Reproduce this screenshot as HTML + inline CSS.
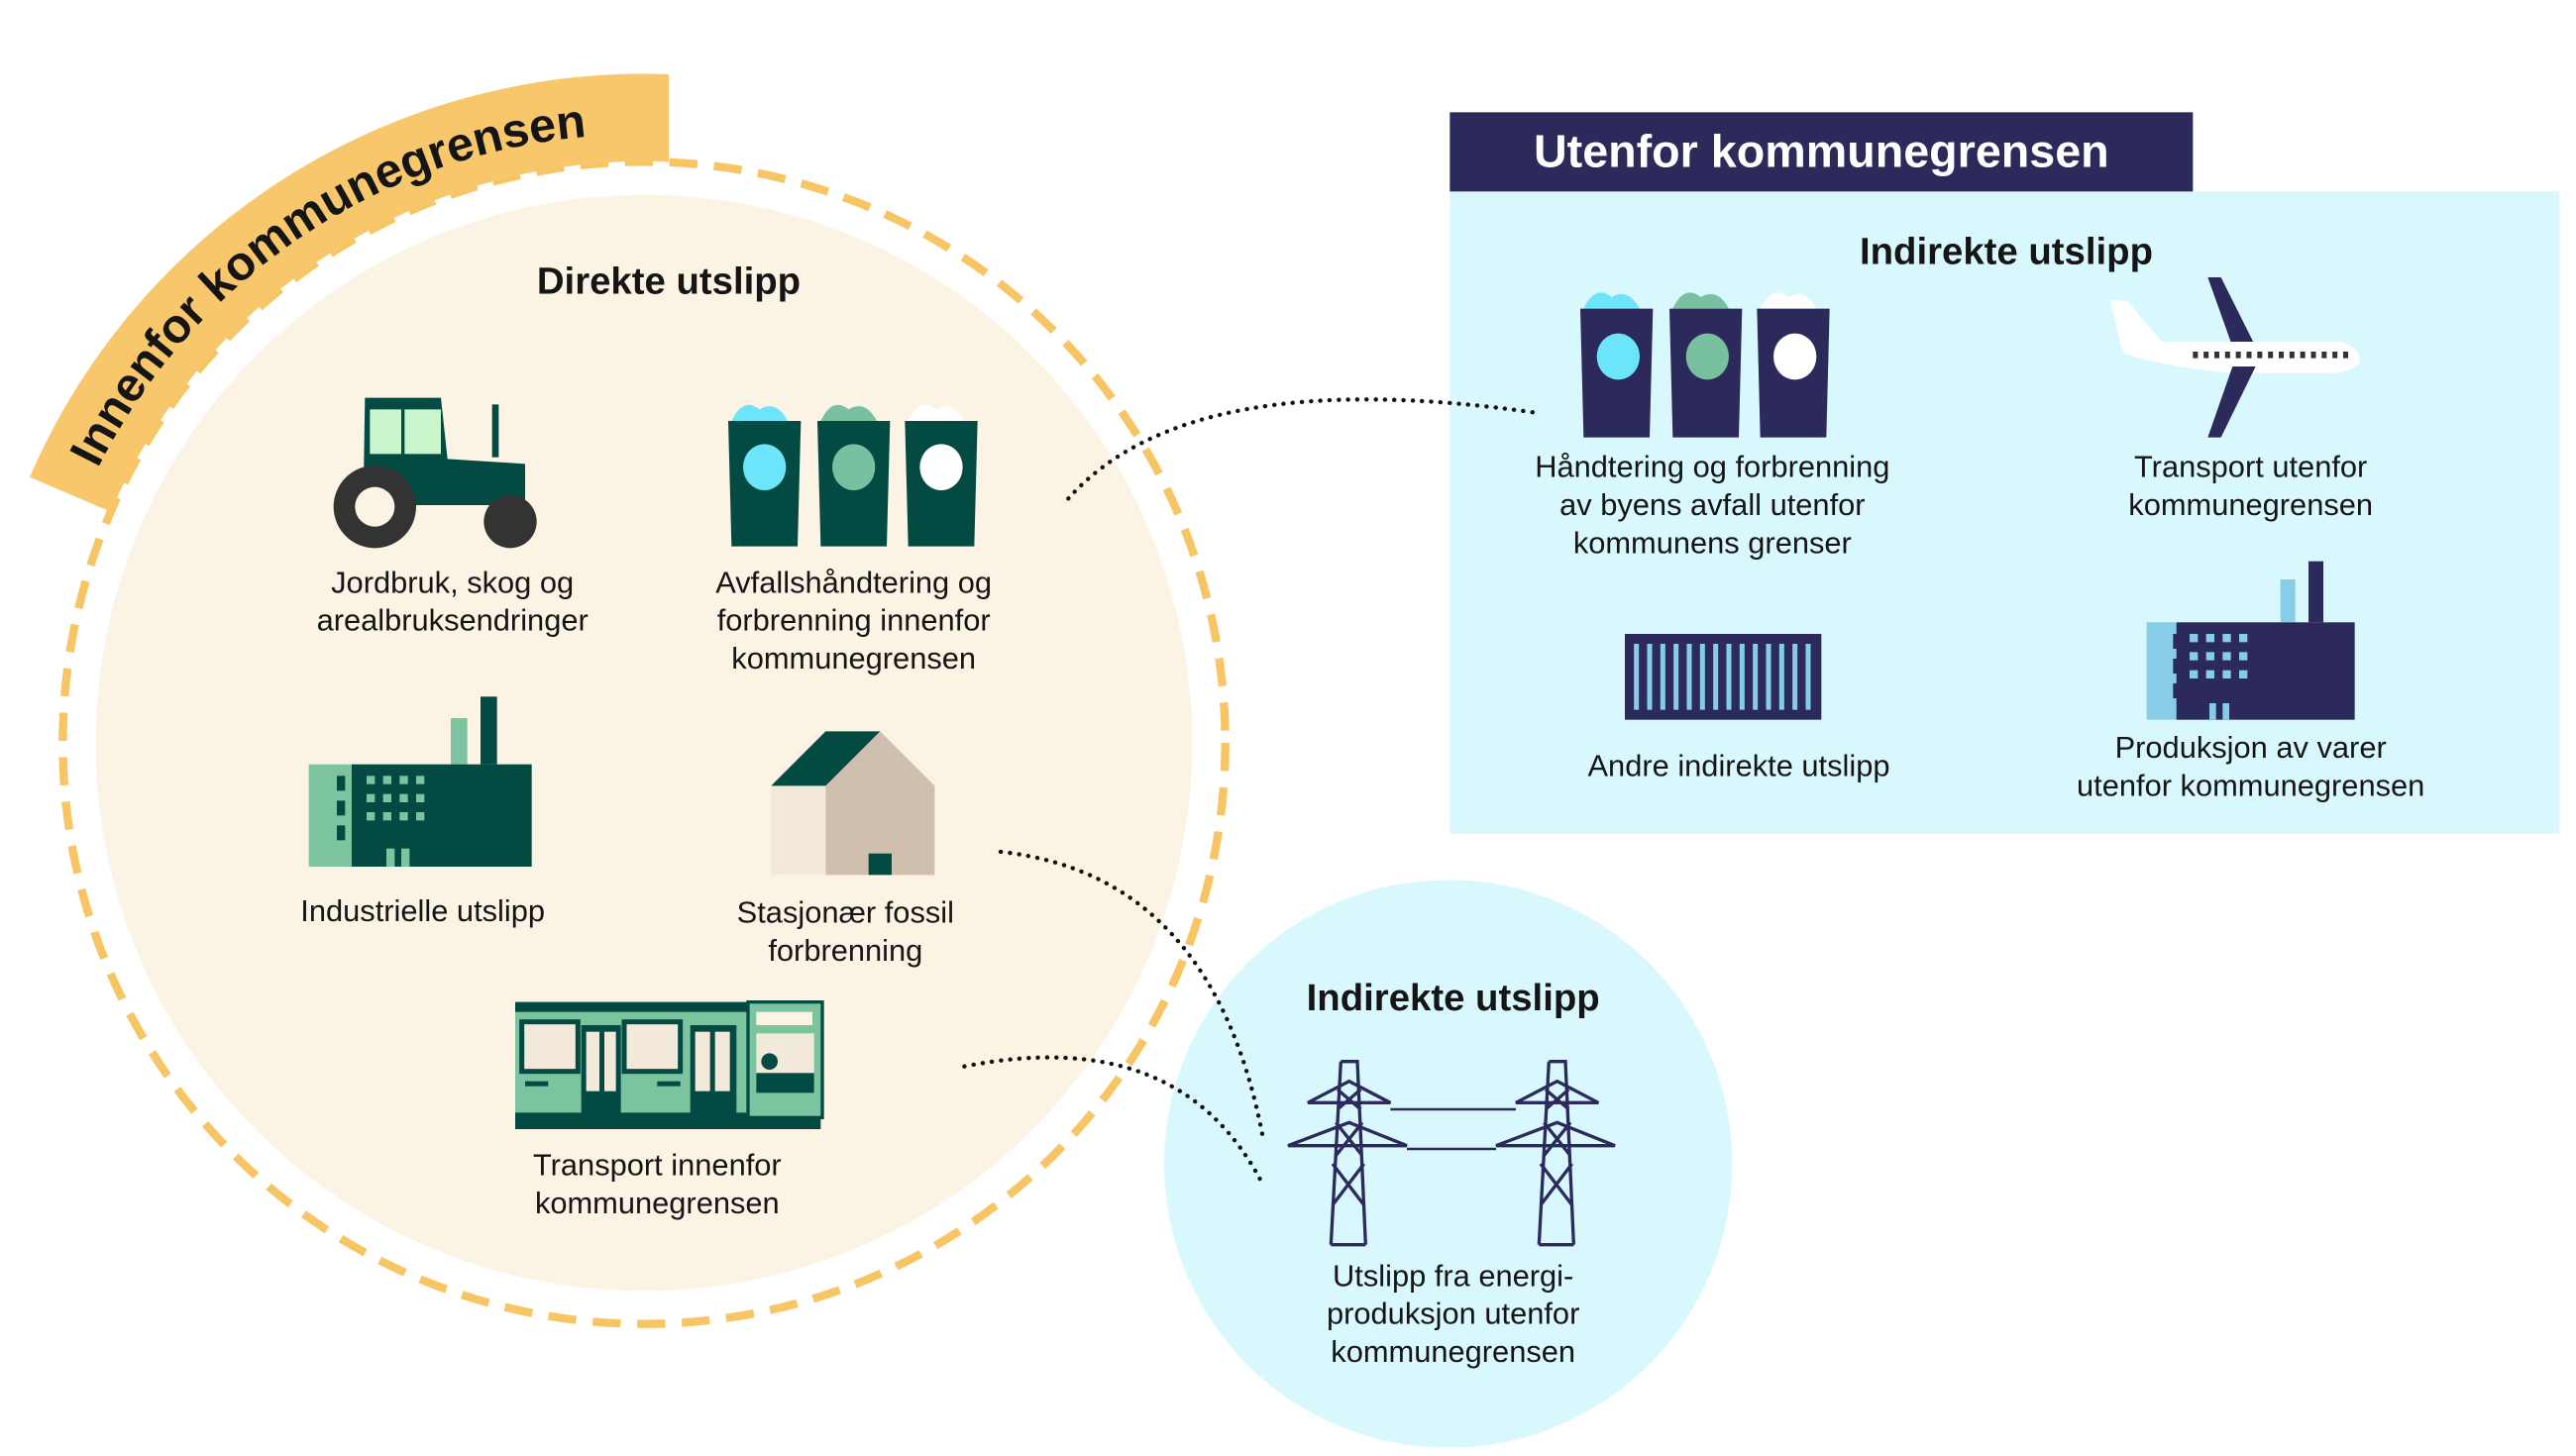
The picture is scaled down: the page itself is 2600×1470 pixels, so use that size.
<!DOCTYPE html>
<html><head><meta charset="utf-8"><style>
html,body{margin:0;padding:0;background:#fff;}
svg{display:block;}
text{font-family:"Liberation Sans",sans-serif;fill:#151515;}
.b{font-weight:bold;}
.l{font-size:18.5px;text-anchor:middle;}
.h{font-size:23px;font-weight:bold;text-anchor:middle;}
</style></head><body>
<svg width="2600" height="1470" viewBox="0 0 1560 882" xmlns="http://www.w3.org/2000/svg">
<rect width="1560" height="882" fill="#fff"/>
<circle cx="390" cy="450" r="352" fill="none" stroke="#f7c564" stroke-width="5" stroke-dasharray="17 10"/>
<circle cx="390" cy="450" r="332" fill="#fbf3e4"/>
<path d="M18,289 A405,405 0 0 1 405,45 L405,98 A352,352 0 0 0 67,310 Z" fill="#f8c76b"/>
<path id="arc" d="M40,330 A366,366 0 0 1 430,84" fill="none"/>
<text class="b" font-size="29"><textPath href="#arc" startOffset="50">Innenfor kommunegrensen</textPath></text>

<text x="405" y="178" class="h">Direkte utslipp</text>

<g fill="#034a42">
<polygon points="221,241 267,241 271,278 318,281 318,306 220,306"/>
<rect x="298" y="245" width="4" height="32"/>
</g>
<rect x="224" y="248" width="19" height="27" fill="#c8f5cb"/>
<rect x="245" y="248" width="22" height="27" fill="#c8f5cb"/>
<circle cx="227" cy="307" r="25" fill="#333"/>
<circle cx="227" cy="307" r="12" fill="#fbf3e4"/>
<circle cx="309" cy="316" r="16" fill="#333"/>
<text class="l" x="274" y="359">Jordbruk, skog og</text>
<text class="l" x="274" y="382">arealbruksendringer</text>

<g>
<path d="M443,255 Q450,240 460,248 Q470,242 477,255Z" fill="#6ce5fb"/>
<path d="M497,255 Q504,240 514,248 Q524,242 531,255Z" fill="#79c0a0"/>
<path d="M550,255 Q557,240 567,248 Q577,242 584,255Z" fill="#fff"/>
<polygon points="441,255 485,255 483,331 443,331" fill="#034a42"/>
<polygon points="495,255 539,255 537,331 497,331" fill="#034a42"/>
<polygon points="548,255 592,255 590,331 550,331" fill="#034a42"/>
<ellipse cx="463" cy="283" rx="13" ry="14" fill="#6ce5fb"/>
<ellipse cx="517" cy="283" rx="13" ry="14" fill="#79c0a0"/>
<ellipse cx="570" cy="283" rx="13" ry="14" fill="#fff"/>
</g>
<text class="l" x="517" y="359">Avfallshåndtering og</text>
<text class="l" x="517" y="382">forbrenning innenfor</text>
<text class="l" x="517" y="405">kommunegrensen</text>

<rect x="273" y="435" width="10" height="28" fill="#7cc4a0"/>
<rect x="291" y="422" width="10" height="41" fill="#034a42"/>
<rect x="187" y="463" width="26" height="62" fill="#7cc4a0"/>
<rect x="213" y="463" width="109" height="62" fill="#034a42"/>
<g fill="#7cc4a0">
<rect x="222" y="470" width="5" height="5"/><rect x="232" y="470" width="5" height="5"/><rect x="242" y="470" width="5" height="5"/><rect x="252" y="470" width="5" height="5"/>
<rect x="222" y="481" width="5" height="5"/><rect x="232" y="481" width="5" height="5"/><rect x="242" y="481" width="5" height="5"/><rect x="252" y="481" width="5" height="5"/>
<rect x="222" y="492" width="5" height="5"/><rect x="232" y="492" width="5" height="5"/><rect x="242" y="492" width="5" height="5"/><rect x="252" y="492" width="5" height="5"/>
<rect x="234" y="514" width="5" height="11"/><rect x="243" y="514" width="5" height="11"/>
</g>
<g fill="#034a42"><rect x="204" y="470" width="5" height="9"/><rect x="204" y="485" width="5" height="9"/><rect x="204" y="500" width="5" height="9"/></g>
<text class="l" x="256" y="558">Industrielle utslipp</text>

<polygon points="500,476 533,443 566,476 566,530 500,530" fill="#d0bfae"/>
<rect x="467" y="476" width="33" height="54" fill="#f3e9da"/>
<polygon points="467,476 500,443 533,443 500,476" fill="#034a42"/>
<rect x="526" y="517" width="14" height="13" fill="#034a42"/>
<text class="l" x="512" y="559">Stasjonær fossil</text>
<text class="l" x="512" y="582">forbrenning</text>

<rect x="312" y="607" width="143" height="77" fill="#7cc4a0"/>
<rect x="312" y="607" width="143" height="6" fill="#034a42"/>
<rect x="316" y="619" width="34" height="30" fill="#f3e9da" stroke="#034a42" stroke-width="3"/>
<rect x="352" y="621" width="24" height="58" fill="#034a42"/>
<rect x="355" y="625" width="8" height="36" fill="#f3e9da"/><rect x="366" y="625" width="7" height="36" fill="#f3e9da"/>
<rect x="378" y="619" width="34" height="30" fill="#f3e9da" stroke="#034a42" stroke-width="3"/>
<rect x="418" y="621" width="28" height="58" fill="#034a42"/>
<rect x="421" y="625" width="9" height="36" fill="#f3e9da"/><rect x="433" y="625" width="9" height="36" fill="#f3e9da"/>
<rect x="318" y="655" width="14" height="3" fill="#034a42"/><rect x="398" y="655" width="14" height="3" fill="#034a42"/>
<rect x="312" y="674" width="185" height="10" fill="#034a42"/>
<rect x="453" y="607" width="45" height="70" fill="#7cc4a0" stroke="#034a42" stroke-width="2"/>
<rect x="458" y="613" width="34" height="8" fill="#fbf3e4"/>
<rect x="458" y="626" width="35" height="35" fill="#f3e9da"/>
<circle cx="466" cy="643" r="5" fill="#034a42"/>
<rect x="458" y="650" width="35" height="12" fill="#034a42"/>
<text class="l" x="398" y="712">Transport innenfor</text>
<text class="l" x="398" y="735">kommunegrensen</text>

<rect x="878" y="116" width="672" height="389" fill="#d8f8fd"/>
<rect x="878" y="68" width="450" height="48" fill="#2b2a5a"/>
<text x="1103" y="101" class="b" font-size="28" text-anchor="middle" style="fill:#fff">Utenfor kommunegrensen</text>
<text x="1215" y="160" class="h">Indirekte utslipp</text>

<path d="M959,187 Q966,172 976,180 Q986,174 993,187Z" fill="#6ce5fb"/>
<path d="M1013,187 Q1020,172 1030,180 Q1040,174 1047,187Z" fill="#79c0a0"/>
<path d="M1066,187 Q1073,172 1083,180 Q1093,174 1100,187Z" fill="#fff"/>
<polygon points="957,187 1001,187 999,265 959,265" fill="#2b2a5a"/>
<polygon points="1011,187 1055,187 1053,265 1013,265" fill="#2b2a5a"/>
<polygon points="1064,187 1108,187 1106,265 1066,265" fill="#2b2a5a"/>
<ellipse cx="980" cy="216" rx="13" ry="14" fill="#6ce5fb"/>
<ellipse cx="1034" cy="216" rx="13" ry="14" fill="#79c0a0"/>
<ellipse cx="1087" cy="216" rx="13" ry="14" fill="#fff"/>
<text class="l" x="1037" y="289">Håndtering og forbrenning</text>
<text class="l" x="1037" y="312">av byens avfall utenfor</text>
<text class="l" x="1037" y="335">kommunens grenser</text>

<polygon points="1337,168 1345,168 1366,210 1352,210" fill="#2b2a5a"/>
<polygon points="1278,182 1288,182 1312,210 1285,212" fill="#fff"/>
<path d="M1285,207 L1418,207 Q1432,212 1428,221 Q1422,226 1410,226 L1350,226 Q1310,222 1286,214Z" fill="#fff"/>
<polygon points="1352,222 1366,222 1345,265 1337,265" fill="#2b2a5a"/>
<line x1="1328" y1="215" x2="1422" y2="215" stroke="#333" stroke-width="4" stroke-dasharray="3 3.5"/>
<text class="l" x="1363" y="289">Transport utenfor</text>
<text class="l" x="1363" y="312">kommunegrensen</text>

<rect x="984" y="384" width="119" height="52" fill="#2b2a5a"/>
<g stroke="#87cde8" stroke-width="3">
<line x1="991" y1="390" x2="991" y2="430"/><line x1="999" y1="390" x2="999" y2="430"/><line x1="1007" y1="390" x2="1007" y2="430"/><line x1="1015" y1="390" x2="1015" y2="430"/><line x1="1023" y1="390" x2="1023" y2="430"/><line x1="1031" y1="390" x2="1031" y2="430"/><line x1="1039" y1="390" x2="1039" y2="430"/><line x1="1047" y1="390" x2="1047" y2="430"/><line x1="1055" y1="390" x2="1055" y2="430"/><line x1="1063" y1="390" x2="1063" y2="430"/><line x1="1071" y1="390" x2="1071" y2="430"/><line x1="1079" y1="390" x2="1079" y2="430"/><line x1="1087" y1="390" x2="1087" y2="430"/><line x1="1095" y1="390" x2="1095" y2="430"/>
</g>
<text class="l" x="1053" y="470">Andre indirekte utslipp</text>

<rect x="1381" y="351" width="9" height="26" fill="#87cde8"/>
<rect x="1398" y="340" width="9" height="37" fill="#2b2a5a"/>
<rect x="1300" y="377" width="18" height="59" fill="#87cde8"/>
<rect x="1318" y="377" width="108" height="59" fill="#2b2a5a"/>
<g fill="#87cde8">
<rect x="1326" y="384" width="5" height="5"/><rect x="1336" y="384" width="5" height="5"/><rect x="1346" y="384" width="5" height="5"/><rect x="1356" y="384" width="5" height="5"/>
<rect x="1326" y="395" width="5" height="5"/><rect x="1336" y="395" width="5" height="5"/><rect x="1346" y="395" width="5" height="5"/><rect x="1356" y="395" width="5" height="5"/>
<rect x="1326" y="406" width="5" height="5"/><rect x="1336" y="406" width="5" height="5"/><rect x="1346" y="406" width="5" height="5"/><rect x="1356" y="406" width="5" height="5"/>
<rect x="1338" y="426" width="4" height="10"/><rect x="1346" y="426" width="4" height="10"/>
</g>
<g fill="#2b2a5a"><rect x="1316" y="384" width="4" height="9"/><rect x="1316" y="399" width="4" height="9"/><rect x="1316" y="414" width="4" height="9"/></g>
<text class="l" x="1363" y="459">Produksjon av varer</text>
<text class="l" x="1363" y="482">utenfor kommunegrensen</text>

<circle cx="877" cy="705" r="172" fill="#d8f8fd"/>
<text x="880" y="612" class="h">Indirekte utslipp</text>
<g stroke="#2b2a5a" stroke-width="2" fill="none">
<path d="M812,643 L822,643 L827,754 M812,643 L806,754 M806,754 L827,754 M810,660 L824,672 M824,660 L810,672 M809,680 L825,700 M825,680 L809,700 M807,705 L826,730 M826,705 L807,730"/>
<path d="M792,668 L842,668 L817,655Z M780,694 L852,694 L817,680Z"/>
<path d="M938,643 L948,643 L953,754 M938,643 L932,754 M932,754 L953,754 M936,660 L950,672 M950,660 L936,672 M935,680 L951,700 M951,680 L935,700 M933,705 L952,730 M952,705 L933,730"/>
<path d="M918,668 L968,668 L943,655Z M906,694 L978,694 L943,680Z"/>
<line x1="842" y1="672" x2="918" y2="672" stroke-width="1.5"/>
<line x1="852" y1="696" x2="906" y2="696" stroke-width="1.5"/>
</g>
<text class="l" x="880" y="779">Utslipp fra energi-</text>
<text class="l" x="880" y="802">produksjon utenfor</text>
<text class="l" x="880" y="825">kommunegrensen</text>

<g fill="none" stroke="#111" stroke-width="2.6" stroke-linecap="round" stroke-dasharray="0.1 5.5">
<path d="M647,302 Q720,220 930,250"/>
<path d="M606,516 Q735,530 765,690"/>
<path d="M584,646 Q715,620 765,718"/>
</g>
</svg>
</body></html>
